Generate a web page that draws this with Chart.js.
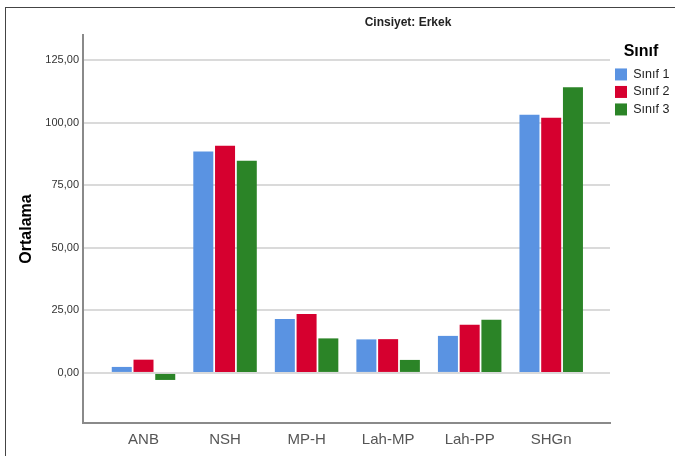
<!DOCTYPE html>
<html>
<head>
<meta charset="utf-8">
<script src="https://cdn.jsdelivr.net/npm/chart.js@4"></script>
<style>
  html, body { margin: 0; background: #fff; overflow: hidden; }
  #frame { position: absolute; left: 5px; top: 7px; width: 670px; height: 449px; border-left: 1px solid #444; border-top: 1px solid #444; }
  #wrap { position: absolute; left: 0; top: 0; width: 675px; height: 456px; }
</style>
</head>
<body>
<div id="frame"></div>
<div id="wrap"><canvas id="chartOne" width="675" height="456"></canvas></div>
<script>
// categories on the x axis
let categories = ['ANB', 'NSH', 'MP-H', 'Lah-MP', 'Lah-PP', 'SHGn'];
// mean values per class
let sinif1 = [2.4, 88.5, 21.5, 13.4, 14.8, 103.1];
let sinif2 = [5.3, 90.8, 23.5, 13.5, 19.2, 101.9];
let sinif3 = [-2.8, 84.8, 13.8, 5.2, 21.2, 114.1];
let seriesNames = ['Sınıf 1', 'Sınıf 2', 'Sınıf 3'];
let yTicks = [0, 25, 50, 75, 100, 125];

const colors = ['#5a93e2', '#d6002f', '#2b8427'];

function toPoints(arr) {
    return arr.map((v, i) => ({x: i, y: v}));
}

// title drawn over the plot, SPSS puts it off-centre
const titlePlugin = {
    id: 'spssTitle',
    afterDraw(chart) {
        const ctx = chart.ctx;
        ctx.save();
        ctx.font = 'bold 12px "Liberation Sans", Arial, sans-serif';
        ctx.fillStyle = '#222';
        ctx.textAlign = 'center';
        ctx.textBaseline = 'middle';
        ctx.fillText('Cinsiyet: Erkek', 408, 23);
        ctx.restore();
    }
};

var ctx = document.getElementById('chartOne').getContext('2d');
var chartOne = new Chart(ctx, {
    type: 'bar',
    data: {
        datasets: [sinif1, sinif2, sinif3].map((arr, i) => ({
            label: seriesNames[i],
            data: toPoints(arr),
            backgroundColor: colors[i],
            borderWidth: 0,
            categoryPercentage: 0.8,
            barPercentage: 0.92
        }))
    },
    options: {
        responsive: false,
        animation: false,
        layout: { padding: { left: 0, top: 35, right: 3, bottom: 0 } },
        scales: {
            x: {
                type: 'linear',
                offset: false,
                min: -0.742,
                max: 5.721,
                grid: { display: false, drawTicks: false },
                border: { display: true, color: '#8a8a8a', width: 2 },
                afterBuildTicks: s => { s.ticks = categories.map((c, i) => ({value: i})); },
                afterFit: s => { s.height = 33; },
                ticks: {
                    autoSkip: false,
                    maxRotation: 0,
                    padding: 8,
                    color: '#555',
                    font: { family: '"Liberation Sans", Arial, sans-serif', size: 15 },
                    callback: v => categories[v]
                }
            },
            y: {
                min: -20,
                max: 135,
                afterBuildTicks: s => { s.ticks = yTicks.map(v => ({value: v})); },
                afterFit: s => { s.width = 83; },
                grid: { color: '#dadada', lineWidth: 2, drawTicks: false },
                border: { display: true, color: '#8a8a8a', width: 2 },
                ticks: {
                    padding: 4,
                    color: '#333',
                    font: { family: '"Liberation Sans", Arial, sans-serif', size: 11 },
                    callback: v => v.toFixed(2).replace('.', ',')
                },
                title: {
                    display: true,
                    text: 'Ortalama',
                    color: '#000',
                    padding: { top: 17, bottom: 0 },
                    font: { family: '"Liberation Sans", Arial, sans-serif', size: 16, weight: 'bold' }
                }
            }
        },
        plugins: {
            legend: {
                position: 'right',
                align: 'start',
                fullSize: false,
                maxWidth: 62,
                title: {
                    display: true,
                    text: 'Sınıf',
                    color: '#000',
                    padding: { top: 9, bottom: 0 },
                    font: { family: '"Liberation Sans", Arial, sans-serif', size: 16, weight: 'bold' }
                },
                labels: {
                    boxWidth: 12,
                    boxHeight: 12,
                    padding: 5,
                    color: '#222',
                    font: { family: '"Liberation Sans", Arial, sans-serif', size: 12.5 }
                }
            },
            tooltip: { enabled: false }
        }
    },
    plugins: [titlePlugin]
});
</script>
</body>
</html>
